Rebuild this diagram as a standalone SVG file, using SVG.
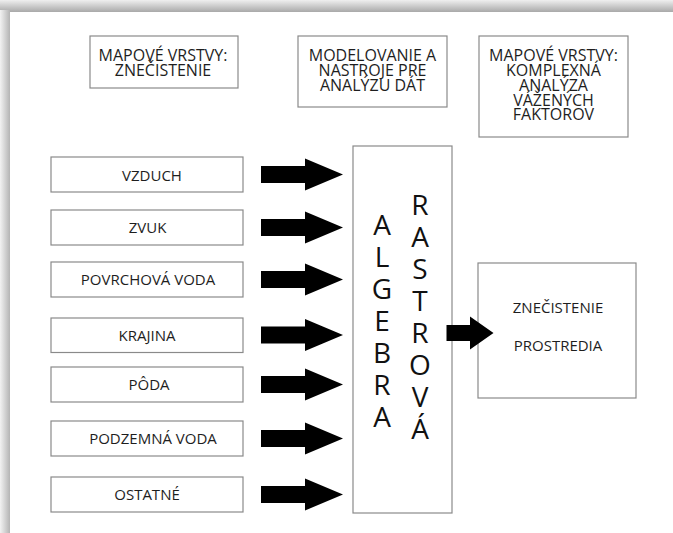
<svg xmlns="http://www.w3.org/2000/svg" width="673" height="533" viewBox="0 0 673 533">
  <defs>
    <linearGradient id="shadeTop" x1="0" y1="0" x2="0" y2="1">
      <stop offset="0" stop-color="#efefef"/>
      <stop offset="1" stop-color="#a9a9a9"/>
    </linearGradient>
    <linearGradient id="shadeLeft" x1="0" y1="0" x2="1" y2="0">
      <stop offset="0" stop-color="#f2f2f2"/>
      <stop offset="1" stop-color="#b4b4b4"/>
    </linearGradient>
    <path id="arrow" d="M0,-8.5 H44 V-16 L82,0 L44,16 V8.5 H0 Z"/>
    <style>
      .box { fill: #ffffff; stroke: #8a8a8a; stroke-width: 1.2; }
      .hdr { font-family: "Open Sans", "Liberation Sans", sans-serif; font-size: 16px; fill: #1e1e1e; text-anchor: middle; }
      .lbl { font-family: "Open Sans", "Liberation Sans", sans-serif; font-size: 15px; fill: #1e1e1e; text-anchor: middle; }
      .big { font-family: "Open Sans", "Liberation Sans", sans-serif; font-size: 28px; fill: #111111; text-anchor: middle; }
      .arr { fill: #000000; }
    </style>
  </defs>

  <!-- page with soft drop shadow along the top and left edges -->
  <rect x="0" y="0" width="673" height="533" fill="#ffffff"/>
  <rect x="0" y="0" width="673" height="12" fill="url(#shadeTop)"/>
  <rect x="0" y="10" width="10" height="523" fill="url(#shadeLeft)"/>

  <!-- column headers -->
  <g id="hdr-znecistenie">
    <rect class="box" x="90" y="36" width="148" height="52"/>
    <text class="hdr" x="163" y="61">MAPOVÉ VRSTVY:</text>
    <text class="hdr" x="163" y="76">ZNEČISTENIE</text>
  </g>
  <g id="hdr-modelovanie">
    <rect class="box" x="298" y="36" width="149" height="71"/>
    <text class="hdr" x="372.5" y="61">MODELOVANIE A</text>
    <text class="hdr" x="372.5" y="76">NASTROJE PRE</text>
    <text class="hdr" x="372.5" y="91">ANALÝZU DÁT</text>
  </g>
  <g id="hdr-komplexna">
    <rect class="box" x="479" y="36" width="149" height="101"/>
    <text class="hdr" x="553.5" y="61">MAPOVÉ VRSTVY:</text>
    <text class="hdr" x="553.5" y="76">KOMPLEXNÁ</text>
    <text class="hdr" x="553.5" y="90.5">ANALÝZA</text>
    <text class="hdr" x="553.5" y="105.5">VÁŽENÝCH</text>
    <text class="hdr" x="553.5" y="120">FAKTOROV</text>
  </g>

  <!-- input layers -->
  <g id="vzduch">
    <rect class="box" x="51" y="157" width="192" height="35"/>
    <text class="lbl" x="152" y="180.5">VZDUCH</text>
  </g>
  <g id="zvuk">
    <rect class="box" x="51" y="210" width="192" height="35"/>
    <text class="lbl" x="147.5" y="233">ZVUK</text>
  </g>
  <g id="povrchova-voda">
    <rect class="box" x="51" y="262" width="192" height="35"/>
    <text class="lbl" x="148" y="285">POVRCHOVÁ VODA</text>
  </g>
  <g id="krajina">
    <rect class="box" x="51" y="318" width="192" height="34.5"/>
    <text class="lbl" x="147" y="340.5">KRAJINA</text>
  </g>
  <g id="poda">
    <rect class="box" x="51" y="367" width="192" height="35"/>
    <text class="lbl" x="149" y="390">PÔDA</text>
  </g>
  <g id="podzemna-voda">
    <rect class="box" x="51" y="421" width="192" height="35"/>
    <text class="lbl" x="153" y="444">PODZEMNÁ VODA</text>
  </g>
  <g id="ostatne">
    <rect class="box" x="51" y="477" width="192" height="35"/>
    <text class="lbl" x="147" y="500">OSTATNÉ</text>
  </g>

  <!-- raster algebra block -->
  <g id="rastrova-algebra">
    <rect class="box" x="353" y="146" width="99" height="367"/>
    <text class="big" x="382" y="235">A</text>
    <text class="big" x="382" y="267">L</text>
    <text class="big" x="382" y="299">G</text>
    <text class="big" x="382" y="331">E</text>
    <text class="big" x="382" y="362.5">B</text>
    <text class="big" x="382" y="394.5">R</text>
    <text class="big" x="382" y="426.5">A</text>
    <text class="big" x="420" y="215">R</text>
    <text class="big" x="420" y="247">A</text>
    <text class="big" x="420" y="279">S</text>
    <text class="big" x="420" y="310.5">T</text>
    <text class="big" x="420" y="342.5">R</text>
    <text class="big" x="420" y="374.5">O</text>
    <text class="big" x="420" y="406.5">V</text>
    <text class="big" x="420" y="438.5">Á</text>
  </g>

  <!-- result -->
  <g id="znecistenie-prostredia">
    <rect class="box" x="478" y="263" width="158" height="135"/>
    <text class="lbl" x="558" y="312.5">ZNEČISTENIE</text>
    <text class="lbl" x="558" y="350.5">PROSTREDIA</text>
  </g>

  <!-- block arrows -->
  <g id="connectors" class="arr">
    <use href="#arrow" x="261" y="174.5"/>
    <use href="#arrow" x="261" y="227.5"/>
    <use href="#arrow" x="261" y="279.5"/>
    <use href="#arrow" x="261" y="335"/>
    <use href="#arrow" x="261" y="384.5"/>
    <use href="#arrow" x="261" y="438.5"/>
    <use href="#arrow" x="261" y="494.5"/>
    <path d="M446.5,325 H470 V316.5 L493.5,333 L470,349.5 V341 H446.5 Z"/>
  </g>
</svg>
